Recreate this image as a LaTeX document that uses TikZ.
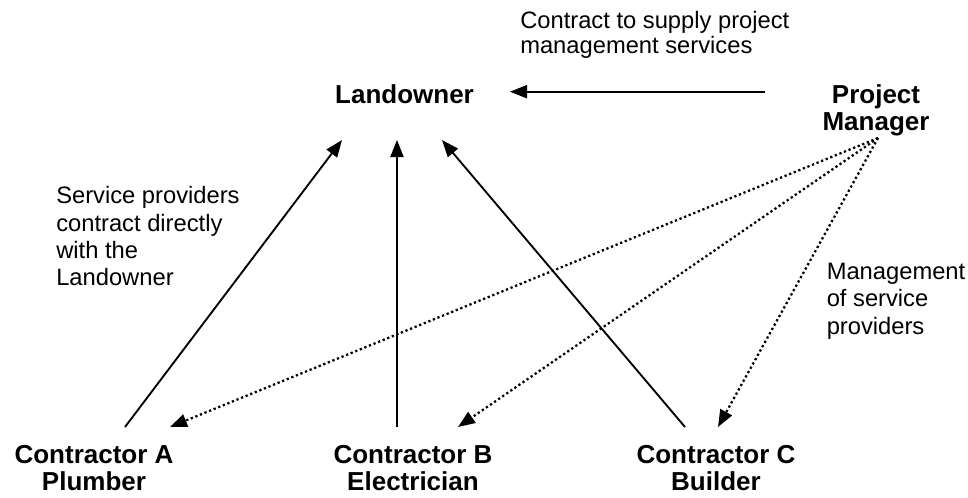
\documentclass[tikz,border=0pt]{standalone}
\usepackage{fontspec}
\setmainfont{Liberation Sans}
\usetikzlibrary{arrows.meta}
\begin{document}
\begin{tikzpicture}[x=0.75pt,y=-0.75pt,
  boldlab/.style={font=\bfseries\fontsize{19.5}{20.5}\selectfont, inner sep=0pt, align=center},
  plainlab/.style={font=\fontsize{17.8}{20.5}\selectfont, inner sep=0pt, align=left},
  toplab/.style={font=\fontsize{17.8}{19}\selectfont, inner sep=0pt, align=left},
  arr/.style={line width=1.4pt, -{Triangle[length=12.75pt,width=9.75pt]}},
  dotarr/.style={arr, line width=1.7pt, dash pattern=on 1.7pt off 2pt}]
\useasboundingbox (0,0) rectangle (968,497);
% text nodes
\node[boldlab, anchor=base] (land) at (404.5,103.3) {Landowner};
\node[boldlab, anchor=north] (pm) at (876,84) {Project\\Manager};
\node[boldlab, anchor=north] (ca) at (94,445) {Contractor A\\Plumber};
\node[boldlab, anchor=north] (cb) at (413,445) {Contractor B\\Electrician};
\node[boldlab, anchor=north] (cc) at (716,445) {Contractor C\\Builder};
\node[toplab, anchor=north west] (contract) at (520,11) {Contract to supply project\\management services};
\node[plainlab, anchor=north west] (sp) at (56,186.5) {Service providers\\contract directly\\with the\\Landowner};
\node[plainlab, anchor=north west] (mgmt) at (826.5,263) {Management\\of service\\providers};
% connector end points
\coordinate (landA) at (342,140);
\coordinate (landB) at (397,140);
\coordinate (landC) at (442,140);
\coordinate (landE) at (510,91.7);
\coordinate (pmW) at (765,91.7);
\coordinate (pmS) at (878,138);
\coordinate (caT) at (125,427);
\coordinate (caD) at (170,427);
\coordinate (cbT) at (397,427);
\coordinate (cbD) at (458,427);
\coordinate (ccT) at (685,427);
\coordinate (ccD) at (718,427);
% connectors
\draw[arr] (pmW) -- (landE);
\draw[arr] (caT) -- (landA);
\draw[arr] (cbT) -- (landB);
\draw[arr] (ccT) -- (landC);
\draw[dotarr] (pmS) -- (caD);
\draw[dotarr] (pmS) -- (cbD);
\draw[dotarr] (pmS) -- (ccD);
\end{tikzpicture}
\end{document}
